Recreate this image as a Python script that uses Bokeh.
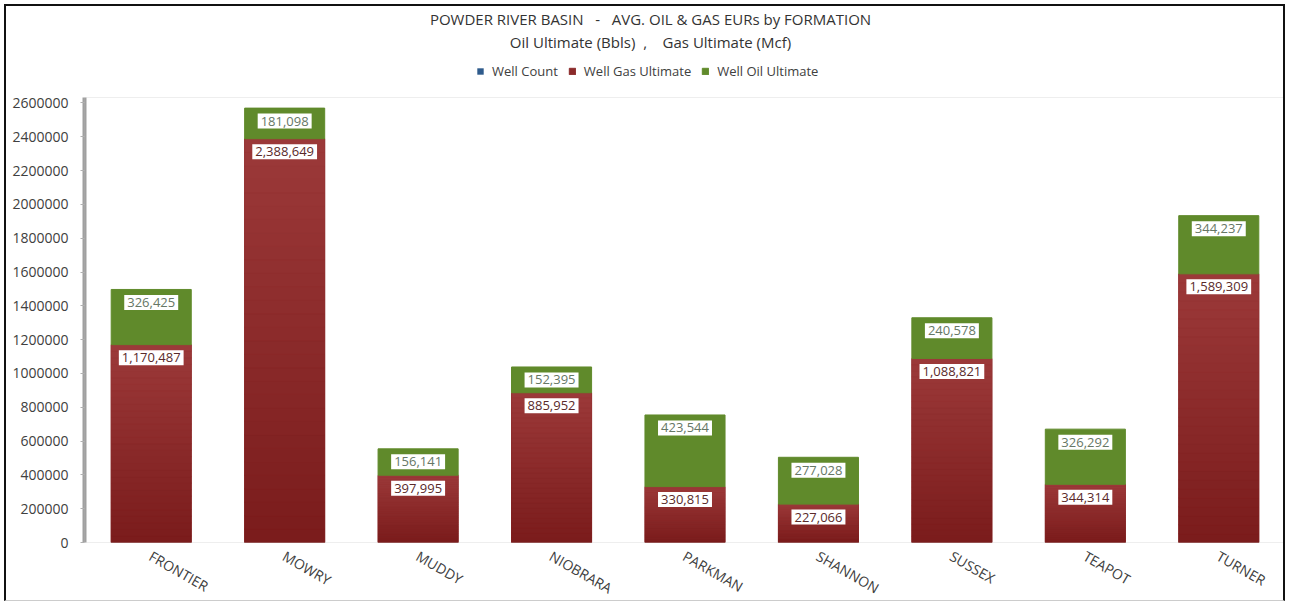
from bokeh.plotting import figure
from bokeh.models import (ColumnDataSource, FactorRange, Legend, LegendItem, Label,
                          FixedTicker, BasicTickFormatter, BoxAnnotation)
from bokeh.core.properties import value
from bokeh.embed import file_html
from bokeh.resources import INLINE

formations = ["FRONTIER", "MOWRY", "MUDDY", "NIOBRARA", "PARKMAN", "SHANNON", "SUSSEX", "TEAPOT", "TURNER"]
gas_ultimate = [1170487, 2388649, 397995, 885952, 330815, 227066, 1088821, 344314, 1589309]
oil_ultimate = [326425, 181098, 156141, 152395, 423544, 277028, 240578, 326292, 344237]
well_count = [0, 0, 0, 0, 0, 0, 0, 0, 0]
y_ticks = list(range(0, 2600001, 200000))
title_1 = "POWDER RIVER BASIN\u00a0\u00a0 -\u00a0\u00a0 AVG. OIL & GAS EURs by FORMATION"
title_2 = "Oil Ultimate (Bbls)\u00a0 ,\u00a0\u00a0\u00a0 Gas Ultimate (Mcf)"

GAS = "#8b2b2b"
GAS_TOP = (0x9c, 0x3a, 0x3a)
GAS_BOTTOM = (0x7a, 0x1b, 0x1b)
OIL = "#608a2b"
COUNT = "#2f5b8c"
FONT = "Open Sans"
BOX_TOP = 2632500      # top of the visible plot box
Y_END = 3170850        # frame extends above the box to hold titles and legend
Y_START = -360860      # and below it to hold the category labels

totals = [g + o for g, o in zip(gas_ultimate, oil_ultimate)]
src = ColumnDataSource(dict(
    x=formations, gas=gas_ultimate, oil=oil_ultimate, total=totals, cnt=well_count,
    zero=[0] * len(formations),
    gas_lbl=[f"{v:,}" for v in gas_ultimate],
    oil_lbl=[f"{v:,}" for v in oil_ultimate],
))

p = figure(width=1281, height=597, x_range=FactorRange(factors=formations, range_padding=0),
           y_range=(Y_START, Y_END), output_backend="svg", toolbar_location=None,
           min_border_left=78, min_border_right=2, min_border_bottom=0, min_border_top=0,
           background_fill_color="white", border_fill_color="white",
           styles={"margin-left": "4px", "margin-top": "4px",
                   "border-top": "2px solid #111", "border-left": "2px solid #111",
                   "border-right": "2px solid #111", "border-bottom": "1px solid #cccccc"})
p.title.visible = False
p.outline_line_color = None
p.xaxis.visible = False

cnt_r = p.vbar(x="x", bottom=0, top="cnt", width=0.6, source=src, fill_color=COUNT, line_color=None)
gas_r = p.vbar(x="x", bottom=0, top="gas", width=0.6, source=src, fill_color=GAS, line_color=GAS)

# vertical shading of the gas segments (lighter at the top, darker at the base)
N = 30
bx, bb, bt, bc = [], [], [], []
for f, g in zip(formations, gas_ultimate):
    for k in range(N):
        t = (k + 0.5) / N
        rgb = [round(lo + (hi - lo) * t) for lo, hi in zip(GAS_BOTTOM, GAS_TOP)]
        bx.append(f)
        bb.append(g * k / N)
        bt.append(g * (k + 1) / N)
        bc.append("#%02x%02x%02x" % tuple(rgb))
p.vbar(x=bx, bottom=bb, top=bt, width=0.6, fill_color=bc, line_color=bc, line_width=0.5)

oil_r = p.vbar(x="x", bottom="gas", top="total", width=0.6, source=src, fill_color=OIL, line_color=OIL)

p.add_layout(BoxAnnotation(bottom=0, top=BOX_TOP, fill_alpha=0, line_color="#c8c8c8", line_width=1))

common = dict(text_align="center", text_baseline="middle", text_font=value(FONT), text_font_size="13px",
              background_fill_color="white", padding=3, y_offset=13)
p.text(x="x", y="gas", text="gas_lbl", source=src, text_color="#5a2a2a", **common)
p.text(x="x", y="total", text="oil_lbl", source=src, text_color="#667766", **common)

# category labels under the baseline
p.text(x="x", y="zero", text="x", source=src, angle=-0.52, text_align="left", text_baseline="top",
       x_offset=4, y_offset=4, text_font=value(FONT), text_font_size="14px", text_color="#404040")

p.xgrid.visible = False
p.ygrid.visible = False

p.yaxis.ticker = FixedTicker(ticks=y_ticks)
p.yaxis.bounds = (0, BOX_TOP)
p.yaxis.formatter = BasicTickFormatter(use_scientific=False)
p.yaxis.axis_line_color = "#a0a0a0"
p.yaxis.axis_line_width = 4
p.yaxis.major_tick_line_color = "#b0b0b0"
p.yaxis.major_tick_out = 4
p.yaxis.major_tick_in = 0
p.yaxis.minor_tick_line_color = None
p.yaxis.major_label_text_font = FONT
p.yaxis.major_label_text_font_size = "14px"
p.yaxis.major_label_text_color = "#404040"
p.yaxis.major_label_standoff = 12

legend = Legend(items=[LegendItem(label="Well Count", renderers=[cnt_r]),
                       LegendItem(label="Well Gas Ultimate", renderers=[gas_r]),
                       LegendItem(label="Well Oil Ultimate", renderers=[oil_r])],
                orientation="horizontal", location=(392, 523),
                label_text_font=FONT, label_text_font_size="13px", label_text_color="#404040",
                glyph_width=8, glyph_height=8, spacing=10, label_standoff=8,
                border_line_color=None, background_fill_alpha=0, padding=0, margin=0)
p.add_layout(legend, "center")

for txt, yy in [(title_1, 585), (title_2, 562)]:
    p.add_layout(Label(x=566, y=yy, x_units="screen", y_units="screen", text=txt,
                       text_align="center", text_baseline="middle", text_font=FONT,
                       text_font_size="15px", text_color="#333333"))

open("out.html", "w").write(file_html(p, INLINE))
